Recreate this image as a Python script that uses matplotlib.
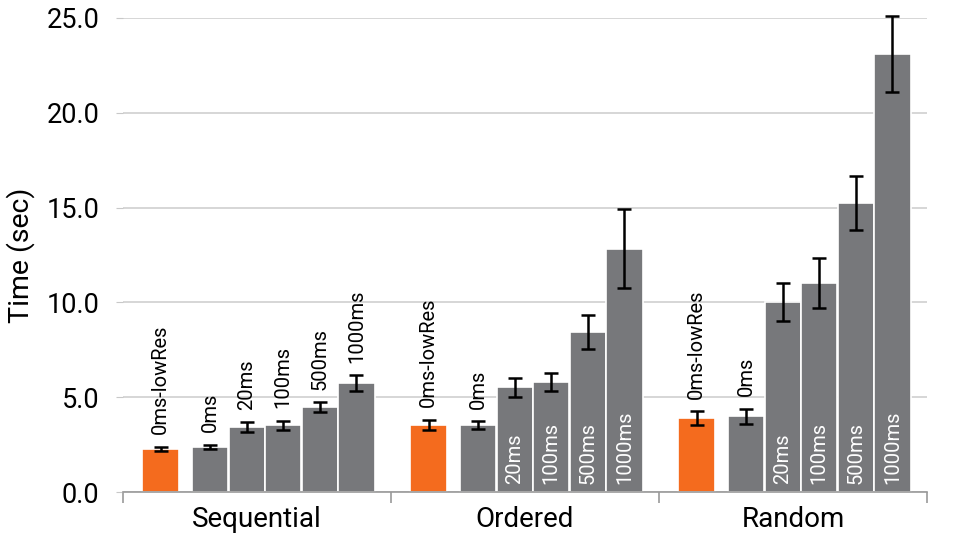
import numpy as np
import matplotlib
matplotlib.use("Agg")
import matplotlib.pyplot as plt

plt.rcParams['font.family'] = ['Roboto', 'DejaVu Sans']

groups = ["Sequential", "Ordered", "Random"]
bar_labels = ["0ms-lowRes", "0ms", "20ms", "100ms", "500ms", "1000ms"]

# mean time (sec) per group, in bar_labels order
times = [
    [2.27, 2.37, 3.43, 3.53, 4.48, 5.75],
    [3.53, 3.53, 5.53, 5.80, 8.44, 12.82],
    [3.90, 4.00, 10.02, 11.02, 15.24, 23.10],
]
# error (+/-)
errs = [
    [0.13, 0.12, 0.24, 0.24, 0.26, 0.40],
    [0.27, 0.20, 0.50, 0.47, 0.90, 2.08],
    [0.37, 0.40, 1.00, 1.32, 1.40, 2.00],
]
# label drawn inside the bar (white) or above it (black)
inside = [
    [False, False, False, False, False, False],
    [False, False, True, True, True, True],
    [False, False, True, True, True, True],
]

orange = "#F46B1E"
grey = "#77787B"

fig = plt.figure(figsize=(9.55, 5.43), dpi=100)
ax = fig.add_axes([0.1288, 0.0939, 0.8419, 0.873])

offsets = [0.14, 0.325, 0.4615, 0.598, 0.7345, 0.871]
width = 0.135

for g in range(len(groups)):
    for i, lab in enumerate(bar_labels):
        x = g + offsets[i]
        v = times[g][i]
        e = errs[g][i]
        col = orange if i == 0 else grey
        ax.bar(x, v, width=width, color=col, edgecolor="white", linewidth=1.2, zorder=2)
        eb = ax.errorbar(x, v, yerr=e, fmt="none", ecolor="black", elinewidth=1.8,
                         capsize=5, capthick=1.8, zorder=3)
        for art in eb.lines[1] + eb.lines[2]:
            art.set_clip_on(False)
        if inside[g][i]:
            ax.annotate(lab, (x, 0), xytext=(0, 6), textcoords="offset points",
                        rotation=90, ha="center", va="bottom", color="white",
                        fontsize=14.5, zorder=4)
        else:
            ax.annotate(lab, (x, v + e), xytext=(0, 9), textcoords="offset points",
                        rotation=90, ha="center", va="bottom", color="black",
                        fontsize=14.5, zorder=4)

ax.set_xlim(0, 3)
ax.set_ylim(0, 25)
ax.set_yticks(np.arange(0, 26, 5))
ax.set_yticklabels([f"{t:.1f}" for t in np.arange(0, 26, 5)], fontsize=19.5)
ax.yaxis.grid(True, color="#D0D0D0", linewidth=1.2, zorder=0)
ax.set_axisbelow(True)
ax.tick_params(axis="y", length=5, color="#C8C8C8", pad=12)

ax.set_xticks([0, 1, 2, 3])
ax.set_xticklabels([])
ax.set_xticks([0.5, 1.5, 2.5], minor=True)
ax.set_xticklabels(groups, minor=True, fontsize=20)
ax.tick_params(axis="x", which="major", length=8, color="#999999", width=1.2)
ax.tick_params(axis="x", which="minor", length=0, pad=10)

for s in ["left", "right", "top"]:
    ax.spines[s].set_visible(False)
ax.spines["bottom"].set_color("#999999")
ax.spines["bottom"].set_linewidth(1.2)

ax.set_ylabel("Time (sec)", fontsize=20.5, labelpad=8)

fig.savefig("out.png", dpi=100)
